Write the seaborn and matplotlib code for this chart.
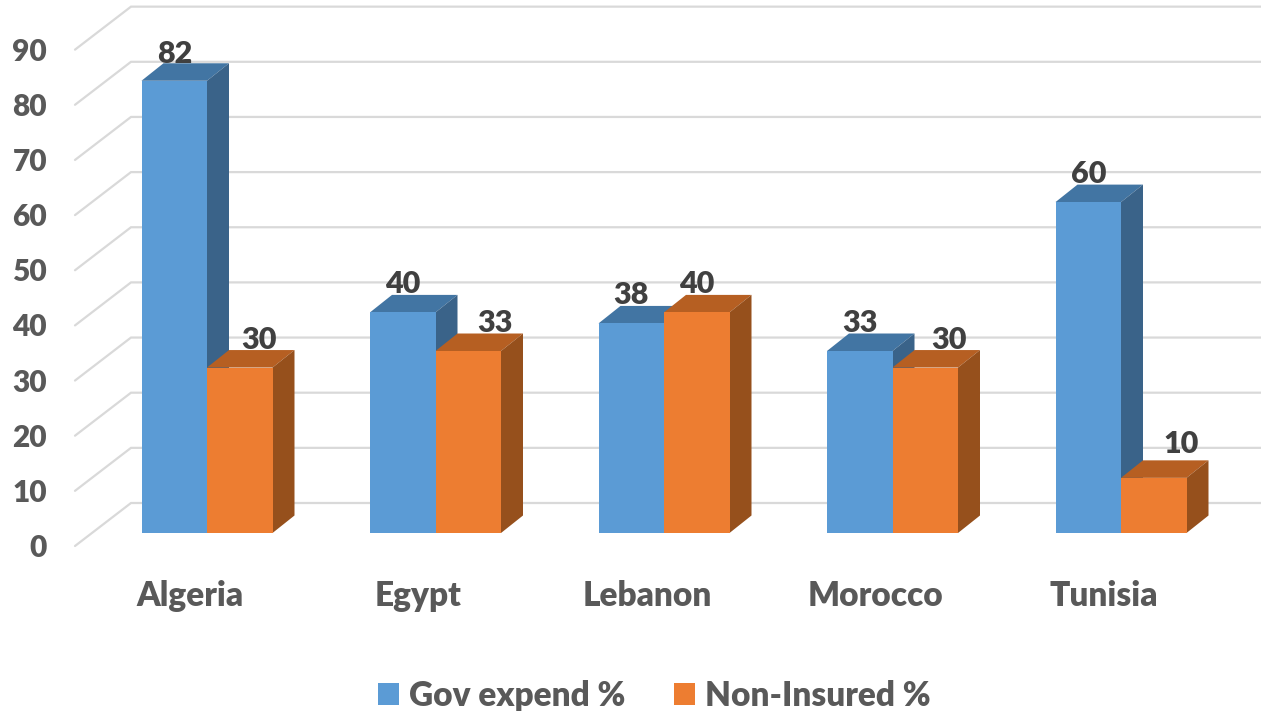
import matplotlib
matplotlib.use("Agg")
import matplotlib.pyplot as plt
from matplotlib.patches import Polygon
import pandas as pd
import seaborn as sns

countries = ["Algeria", "Egypt", "Lebanon", "Morocco", "Tunisia"]
gov_expend = [82, 40, 38, 33, 60]
non_insured = [30, 33, 40, 30, 10]
series_names = ["Gov expend %", "Non-Insured %"]
y_ticks = [0, 10, 20, 30, 40, 50, 60, 70, 80, 90]

front_colors = ["#5B9BD5", "#ED7D31"]
top_colors = ["#4275A3", "#B65F22"]
side_colors = ["#3A6389", "#96501C"]

sns.set_theme(style="white")
plt.rcParams["font.family"] = ["Lato", "DejaVu Sans"]

df = pd.DataFrame({
    "country": countries * 2,
    "value": gov_expend + non_insured,
    "series": [series_names[0]] * 5 + [series_names[1]] * 5,
})

W, H = 1261, 711
# pixels per data unit, first group centre and zero line in the picture
per_x = 228.5
per_y = 5.515
x0_px = 207
y0_px = 533
dx = 22 / per_x
dy = 17.5 / per_y
WEIGHT = "heavy"

fig = plt.figure(figsize=(W / 100, H / 100), dpi=100)
ax = fig.add_axes([0, 0, 1, 1])
sns.barplot(data=df, x="country", y="value", hue="series", palette=front_colors,
            saturation=1, width=131 / per_x, gap=0, linewidth=0, zorder=3, ax=ax)
xmin, xmax = -x0_px / per_x, (W - x0_px) / per_x
ax.set_xlim(xmin, xmax)
ax.set_ylim(-(H - y0_px) / per_y, y0_px / per_y)
ax.axis("off")

# wall gridlines, running back from the tick label to the right edge
for v in y_ticks:
    front = (xmin + 75 / per_x, v - 13 / per_y)
    back = (xmin + 131 / per_x, v + 30 / per_y)
    ax.plot([front[0], back[0], xmax], [front[1], back[1], back[1]],
            color="#D9D9D9", lw=1.6, zorder=1, solid_joinstyle="miter")
    ax.text(xmin + 47 / per_x, front[1] - 2 / per_y, str(v), ha="right", va="center",
            fontsize=21.5, fontweight=WEIGHT, color="#595959")

# depth faces on each bar, and the value labels
label_shift = [[0, 0, 0, 0, 0], [19, 27, 0, 24, 27]]
label_rise = [[27, 28, 28, 28, 28], [28, 28, 28, 28, 34]]
for s, container in enumerate(ax.containers):
    for i, bar in enumerate(container):
        x, w, h = bar.get_x(), bar.get_width(), bar.get_height()
        top = [(x, h), (x + dx, h + dy), (x + w + dx, h + dy), (x + w, h)]
        side = [(x + w, 0), (x + w + dx, dy), (x + w + dx, h + dy), (x + w, h)]
        ax.add_patch(Polygon(top, color=top_colors[s], lw=0, zorder=2 + s * 0.2))
        ax.add_patch(Polygon(side, color=side_colors[s], lw=0, zorder=2 + s * 0.2))
        ax.text(x + w / 2 + label_shift[s][i] / per_x, h + label_rise[s][i] / per_y, str(int(h)),
                ha="center", va="center", fontsize=22, fontweight=WEIGHT,
                color="#404040", zorder=5)

for i, name in enumerate(countries):
    ax.text(i - 17 / per_x, -63 / per_y, name, ha="center", va="center",
            fontsize=24, fontweight=WEIGHT, color="#595959")

handles, labels = ax.get_legend_handles_labels()
leg = ax.legend(handles, labels, loc="center", bbox_to_anchor=(654.5 / W, 1 - 695.5 / H),
                ncol=2, frameon=False, handlelength=0.64, handleheight=0.64,
                handletextpad=0.3, columnspacing=1.45,
                prop={"family": "Lato", "weight": WEIGHT, "size": 24},
                labelcolor="#595959", borderpad=0, borderaxespad=0)

fig.savefig("out.png", dpi=100, facecolor="white")
